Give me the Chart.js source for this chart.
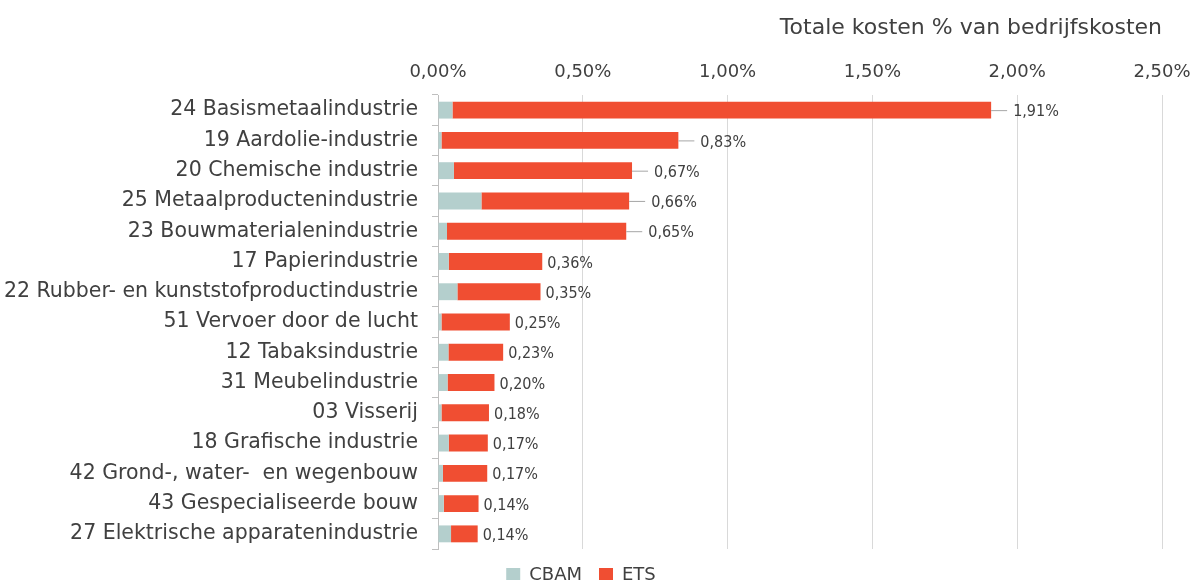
<!DOCTYPE html>
<html>
<head>
<meta charset="utf-8">
<script src="https://cdn.jsdelivr.net/npm/chart.js"></script>
<style>
  html, body { margin: 0; padding: 0; background: #fff; }
  #wrap { width: 1196px; height: 580px; }
</style>
</head>
<body>
<div id="wrap"><canvas id="myChart"></canvas></div>
<script>
const categories = [
  '24 Basismetaalindustrie', '19 Aardolie-industrie', '20 Chemische industrie',
  '25 Metaalproductenindustrie', '23 Bouwmaterialenindustrie', '17 Papierindustrie',
  '22 Rubber- en kunststofproductindustrie', '51 Vervoer door de lucht', '12 Tabaksindustrie',
  '31 Meubelindustrie', '03 Visserij', '18 Grafische industrie',
  '42 Grond-, water-  en wegenbouw', '43 Gespecialiseerde bouw', '27 Elektrische apparatenindustrie'
];
const cbam = [0.05, 0.012, 0.055, 0.15, 0.031, 0.037, 0.067, 0.012, 0.036, 0.033, 0.012, 0.037, 0.017, 0.02, 0.045];
const ets  = [1.86, 0.818, 0.615, 0.51, 0.619, 0.323, 0.287, 0.236, 0.189, 0.162, 0.164, 0.135, 0.153, 0.12, 0.092];
const totalLabels = ['1,91%', '0,83%', '0,67%', '0,66%', '0,65%', '0,36%', '0,35%', '0,25%', '0,23%', '0,20%', '0,18%', '0,17%', '0,17%', '0,14%', '0,14%'];

const textColor = '#404040';
const font = 'DejaVu Sans';

const totalsPlugin = {
  id: 'totals',
  afterDatasetsDraw(chart) {
    const ctx = chart.ctx;
    const xs = chart.scales.x;
    const meta = chart.getDatasetMeta(1);
    ctx.save();
    ctx.font = '16px "DejaVu Sans Condensed", "DejaVu Sans"';
    ctx.fillStyle = textColor;
    ctx.textBaseline = 'middle';
    categories.forEach((c, i) => {
      const end = xs.getPixelForValue(cbam[i] + ets[i]);
      const y = meta.data[i].y;
      let tx = end + 5;
      if (cbam[i] + ets[i] > 0.5) {
        ctx.strokeStyle = '#a6a6a6';
        ctx.lineWidth = 1;
        ctx.beginPath();
        ctx.moveTo(end, y + 0.5);
        ctx.lineTo(end + 16, y + 0.5);
        ctx.stroke();
        tx = end + 22;
      }
      ctx.fillText(totalLabels[i], tx, y + 2);
    });
    ctx.restore();
  }
};

new Chart(document.getElementById('myChart'), {
  type: 'bar',
  data: {
    labels: categories,
    datasets: [
      { label: 'CBAM', data: cbam, backgroundColor: '#b4cfcd', barPercentage: 0.9, categoryPercentage: 0.62 },
      { label: 'ETS', data: ets, backgroundColor: '#f04e32', barPercentage: 0.9, categoryPercentage: 0.62 }
    ]
  },
  options: {
    indexAxis: 'y',
    responsive: true,
    maintainAspectRatio: false,
    animation: false,
    layout: { padding: { left: 0, right: 34, top: 0, bottom: -14 } },
    scales: {
      x: {
        position: 'top',
        stacked: true,
        min: 0,
        max: 2.5,
        ticks: {
          stepSize: 0.5,
          color: textColor,
          font: { family: font, size: 18 },
          padding: 12,
          callback: v => v.toFixed(2).replace('.', ',') + '%'
        },
        grid: { color: '#d9d9d9', drawTicks: false },
        border: { display: false },
        title: {
          display: true,
          text: 'Totale kosten % van bedrijfskosten',
          align: 'end',
          color: textColor,
          font: { family: font, size: 22 },
          padding: { top: 15, bottom: 12 }
        },
        afterFit: s => { s.height = 95; s.paddingLeft = 0; s.paddingRight = 0; }
      },
      y: {
        stacked: true,
        ticks: {
          color: textColor,
          font: { family: font, size: 20.5 },
          padding: 14
        },
        grid: { drawOnChartArea: false, tickLength: 6, color: '#bfbfbf' },
        border: { color: '#bfbfbf' },
        afterFit: s => { s.width = 438; }
      }
    },
    plugins: {
      legend: {
        position: 'bottom',
        labels: {
          color: textColor,
          font: { family: font, size: 18 },
          boxWidth: 14,
          boxHeight: 14,
          padding: 17
        }
      },
      tooltip: { enabled: false }
    }
  },
  plugins: [totalsPlugin]
});
</script>
</body>
</html>
